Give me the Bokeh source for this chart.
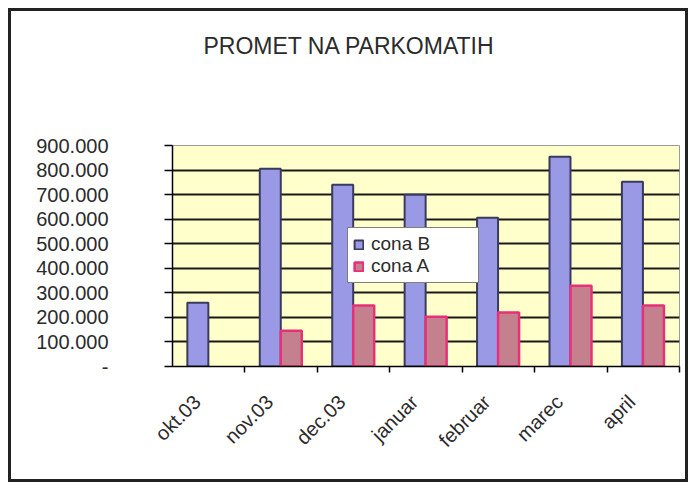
import math
import numpy as np
from bokeh.plotting import figure
from bokeh.models import (Range1d, FixedTicker, ColumnDataSource, Legend, LegendItem,
                          Title, Column)
from bokeh.embed import file_html
from bokeh.resources import INLINE

# ---- data ----
title_text = "PROMET NA PARKOMATIH"
months = ["okt.03", "nov.03", "dec.03", "januar", "februar", "marec", "april"]
cona_B = [260000, 805000, 740000, 699000, 606000, 854000, 752000]
cona_A = [float("nan"), 146000, 248000, 203000, 220000, 329000, 248000]
y_ticks = [0, 100000, 200000, 300000, 400000, 500000, 600000, 700000, 800000, 900000]
y_tick_labels = ["-", "100.000", "200.000", "300.000", "400.000", "500.000",
                 "600.000", "700.000", "800.000", "900.000"]
series_names = ["cona B", "cona A"]

FONT = "Liberation Sans"
TXT = "#2b2b2b"

n = len(months)
pos = np.arange(1, n + 1)      # label anchor positions
d = 0.16                       # labels sit slightly left of the category centre
centres = pos + d

p = figure(width=674, height=468, output_backend="svg", toolbar_location=None,
           x_range=Range1d(0.5 + d, n + 0.5 + d), y_range=Range1d(0, 900000),
           min_border_left=161, min_border_right=6, min_border_top=134,
           min_border_bottom=113, title=None)

p.background_fill_color = "#FFFFCC"
p.border_fill_color = "white"
p.outline_line_color = "#9a9a9a"
p.outline_line_width = 1

# bars
src = ColumnDataSource(dict(xb=centres - 0.15, xa=centres + 0.14, b=cona_B, a=cona_A))
rb = p.vbar(x="xb", top="b", width=0.29, source=src, fill_color="#9999E6",
            line_color="#3a3a5c", line_width=2)
ra = p.vbar(x="xa", top="a", width=0.29, source=src, fill_color="#C4808C",
            line_color="#E8307A", line_width=2.5)

# x axis: labels near centres, ticks at category boundaries
xa = p.xaxis[0]
xa.ticker = FixedTicker(ticks=list(pos),
                        minor_ticks=list(np.append(centres - 0.5, centres[-1] + 0.5)))
xa.major_label_overrides = {int(i): m for i, m in zip(pos, months)}
xa.major_tick_line_color = None
xa.minor_tick_out = 6
xa.minor_tick_in = 0
xa.minor_tick_line_color = "black"
xa.minor_tick_line_width = 1.5
xa.axis_line_color = "black"
xa.axis_line_width = 1.5
xa.major_label_orientation = math.pi / 4
xa.major_label_text_font = FONT
xa.major_label_text_font_size = "20px"
xa.major_label_text_color = TXT
xa.major_label_standoff = 26

# y axis
ya = p.yaxis[0]
ya.ticker = FixedTicker(ticks=y_ticks)
ya.major_label_overrides = {int(t): l for t, l in zip(y_ticks, y_tick_labels)}
ya.major_tick_out = 8
ya.major_tick_in = 0
ya.major_tick_line_color = "black"
ya.major_tick_line_width = 1.5
ya.minor_tick_line_color = None
ya.axis_line_color = "black"
ya.axis_line_width = 1.5
ya.major_label_text_font = FONT
ya.major_label_text_font_size = "20px"
ya.major_label_text_color = TXT
ya.major_label_standoff = 56

# grid
p.xgrid.grid_line_color = None
p.ygrid.ticker = FixedTicker(ticks=y_ticks[1:-1])
p.ygrid.grid_line_color = "#1a1a1a"
p.ygrid.grid_line_width = 2

# legend
legend = Legend(items=[LegendItem(label=series_names[0], renderers=[rb]),
                       LegendItem(label=series_names[1], renderers=[ra])],
                location=(175, 83))
legend.border_line_color = "black"
legend.border_line_width = 1
legend.background_fill_color = "white"
legend.background_fill_alpha = 1
legend.label_text_font = FONT
legend.label_text_font_size = "19px"
legend.label_text_color = TXT
legend.label_text_line_height = 0.9
legend.glyph_width = 11
legend.glyph_height = 11
legend.label_height = 17
legend.label_width = 102
legend.label_standoff = 7
legend.padding = 5
legend.spacing = -6
legend.margin = 0
p.add_layout(legend, "center")

# spacer between frame and title, then the title itself
p.add_layout(Title(text=" ", text_font_size="10px", standoff=67), "above")
p.add_layout(Title(text=title_text, text_font=FONT, text_font_size="23px",
                   text_font_style="normal", text_color=TXT, align="left",
                   vertical_align="top", offset=31, standoff=10), "above")

layout = Column(children=[p], styles={"border": "3px solid #222222",
                                      "margin-left": "8px", "margin-top": "8px"})

open("out.html", "w").write(file_html(layout, INLINE))
